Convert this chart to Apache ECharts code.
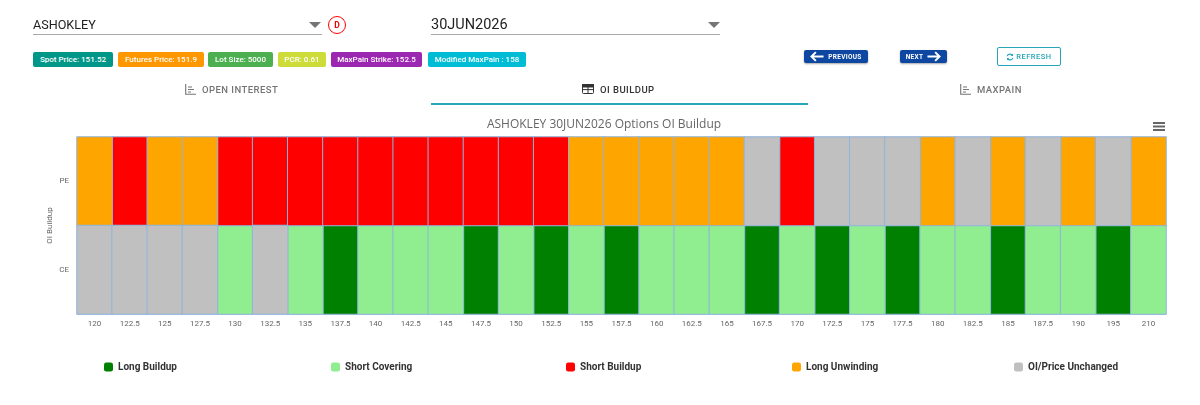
<!DOCTYPE html>
<html>
<head>
<meta charset="utf-8">
<title>ASHOKLEY Options OI Buildup</title>
<script src="https://cdn.jsdelivr.net/npm/echarts@6/dist/echarts.min.js"></script>
<style>
  html, body { margin: 0; padding: 0; background: #fff; width: 1200px; height: 405px; overflow: hidden; font-family: Roboto, sans-serif; }
  #chart { position: absolute; left: 0; top: 0; width: 1200px; height: 405px; }
  .abs { position: absolute; }
  .select { position: absolute; top: 14px; height: 21px; border-bottom: 1px solid #aaa; color: #222; line-height: 21px; box-sizing: border-box; }
  .caret { position: absolute; top: 22px; width: 0; height: 0; border-left: 6px solid transparent; border-right: 6px solid transparent; border-top: 6.5px solid #757575; }
  .badge { position: absolute; top: 52px; height: 15px; border-radius: 2px; color: #fff; font-size: 8px; font-weight: 500; line-height: 15px; text-align: center; white-space: nowrap; }
  .nav { position: absolute; background: #0d47a1; color: #fff; border-radius: 2px; font-size: 6.5px; font-weight: 700; letter-spacing: .3px; box-shadow: 0 1px 2px rgba(0,0,0,.35); display: flex; align-items: center; justify-content: center; gap: 3px; }
  .tab { position: absolute; top: 79px; height: 20px; font-size: 9.5px; font-weight: 500; letter-spacing: .45px; display: flex; align-items: center; gap: 6px; white-space: nowrap; }
</style>
</head>
<body>
<div id="chart"></div>

<div class="select" style="left:33px;width:289px;font-size:12.6px">ASHOKLEY</div>
<div class="caret" style="left:309px"></div>
<div class="abs" style="left:328px;top:16px;width:16px;height:16px;border:1.3px solid #f00;border-radius:50%;color:#e00;font-size:8.5px;font-weight:700;text-align:center;line-height:16px">D</div>
<div class="select" style="left:431px;width:289px;font-size:14.5px">30JUN2026</div>
<div class="caret" style="left:708px"></div>

<div class="badge" style="left:33px;width:80px;background:#009688">Spot Price: 151.52</div>
<div class="badge" style="left:118px;width:86px;background:#ff9800">Futures Price: 151.9</div>
<div class="badge" style="left:208px;width:65px;background:#4caf50">Lot Size: 5000</div>
<div class="badge" style="left:278px;width:48px;background:#cddc39">PCR: 0.61</div>
<div class="badge" style="left:331px;width:91px;background:#9c27b0">MaxPain Strike: 152.5</div>
<div class="badge" style="left:428px;width:98px;background:#00bcd4">Modified MaxPain : 158</div>

<div class="nav" style="left:804px;top:50px;width:64px;height:13px">
  <svg width="15" height="11" viewBox="0 0 13 10"><path d="M5 1 L1 5 L5 9 M1 5 H12" fill="none" stroke="#fff" stroke-width="1.8"/></svg><span>PREVIOUS</span>
</div>
<div class="nav" style="left:900px;top:50px;width:47px;height:13px">
  <span>NEXT</span><svg width="15" height="11" viewBox="0 0 13 10"><path d="M8 1 L12 5 L8 9 M1 5 H12" fill="none" stroke="#fff" stroke-width="1.8"/></svg>
</div>
<div class="abs" style="left:997px;top:47px;width:62px;height:17px;border:1px solid #26a6b8;border-radius:2px;color:#26a6b8;font-size:7.5px;font-weight:500;letter-spacing:.5px;display:flex;align-items:center;justify-content:center;gap:2px">
  <svg width="8" height="8" viewBox="0 0 10 10"><path d="M1.5 4 A3.6 3.6 0 0 1 8 3 M8.5 6 A3.6 3.6 0 0 1 2 7" fill="none" stroke="#26a6b8" stroke-width="1.4"/><path d="M8.8 .6 V3.6 H5.8 Z M1.2 9.4 V6.4 H4.2 Z" fill="#26a6b8"/></svg><span>REFRESH</span>
</div>

<div class="tab" style="left:185px;color:#757575">
  <svg width="11" height="11" viewBox="0 0 11 11"><path d="M.7 0 V10.3 H11 M3 3 H7 M3 5.5 H9 M3 8 H6" fill="none" stroke="#757575" stroke-width="1.1"/></svg><span>OPEN INTEREST</span>
</div>
<div class="tab" style="left:582px;color:#333">
  <svg width="12" height="10" viewBox="0 0 12 10"><rect x=".5" y=".5" width="11" height="9" rx="1" fill="#fff" stroke="#333"/><path d="M0 0 H12 V3 H0 Z M0 5.6 H12 M6 3 V10" fill="#333" stroke="#333" stroke-width="1"/></svg><span>OI BUILDUP</span>
</div>
<div class="tab" style="left:960px;color:#757575">
  <svg width="11" height="11" viewBox="0 0 11 11"><path d="M.7 0 V10.3 H11 M3 3 H7 M3 5.5 H9 M3 8 H6" fill="none" stroke="#757575" stroke-width="1.1"/></svg><span>MAXPAIN</span>
</div>
<div class="abs" style="left:431px;top:103px;width:377px;height:2px;background:#26a6b8"></div>

<div class="abs" style="left:1153px;top:122px;width:12px;height:2px;background:#666;box-shadow:0 3.5px 0 #666,0 7px 0 #666"></div>

<script>
// Strike prices along the horizontal axis
const strikes = ['120','122.5','125','127.5','130','132.5','135','137.5','140','142.5','145','147.5','150','152.5','155','157.5','160','162.5','165','167.5','170','172.5','175','177.5','180','182.5','185','187.5','190','195','210'];
const optionTypes = ['CE', 'PE'];

// Build-up state per strike: LB, SC, SB, LU or NC
const peStates = ['LU','SB','LU','LU','SB','SB','SB','SB','SB','SB','SB','SB','SB','SB','LU','LU','LU','LU','LU','NC','SB','NC','NC','NC','LU','NC','LU','NC','LU','NC','LU'];
const ceStates = ['NC','NC','NC','NC','SC','NC','SC','LB','SC','SC','SC','LB','SC','LB','SC','LB','SC','SC','SC','LB','SC','LB','SC','LB','SC','SC','LB','SC','SC','LB','SC'];

const stateCodes = ['LB', 'SC', 'SB', 'LU', 'NC'];
const stateNames = ['Long Buildup', 'Short Covering', 'Short Buildup', 'Long Unwinding', 'OI/Price Unchanged'];
const stateColors = ['#008000', '#90ee90', '#ff0000', '#ffa500', '#c0c0c0'];
const legendLefts = [104, 331, 566, 792, 1014];

const cellsFor = code => {
  const out = [];
  strikes.forEach((_, i) => {
    if (ceStates[i] === code) out.push([i, 0, 1]);
    if (peStates[i] === code) out.push([i, 1, 1]);
  });
  return out;
};

const chart = echarts.init(document.getElementById('chart'), null, { renderer: 'canvas' });
chart.setOption({
  animation: false,
  color: stateColors,
  title: {
    text: 'ASHOKLEY 30JUN2026 Options OI Buildup',
    left: 599, top: 114, textAlign: 'center',
    textStyle: { fontFamily: 'Open Sans', fontSize: 12, fontWeight: 400, color: '#666' }
  },
  grid: { left: 77, top: 137, width: 1089, height: 177, containLabel: false },
  xAxis: {
    type: 'category', data: strikes,
    axisLine: { show: true, lineStyle: { color: '#ccd6eb' } },
    axisTick: { show: false }, splitArea: { show: false },
    axisLabel: { interval: 0, fontFamily: 'Roboto', fontSize: 8, color: '#666', margin: 6 }
  },
  yAxis: {
    type: 'category', data: optionTypes,
    name: 'OI Buildup', nameLocation: 'middle', nameGap: 23, nameMoveOverlap: false,
    nameTextStyle: { fontFamily: 'Roboto', fontSize: 8, color: '#666' },
    axisLine: { show: false }, axisTick: { show: false },
    axisLabel: { fontFamily: 'Roboto', fontSize: 8, color: '#666', margin: 8 }
  },
  legend: stateNames.map((name, i) => ({
    data: [name], left: legendLefts[i], top: 362, padding: 0,
    icon: 'roundRect', itemWidth: 9, itemHeight: 9, itemGap: 0,
    itemStyle: { borderWidth: 0 },
    selectedMode: false,
    textStyle: { fontFamily: 'Roboto', fontSize: 10, fontWeight: 700, color: '#333' }
  })),
  series: stateCodes.map((code, i) => ({
    type: 'heatmap',
    name: stateNames[i],
    data: cellsFor(code),
    itemStyle: { color: stateColors[i], borderColor: '#8fb4dc', borderWidth: 1 },
    emphasis: { disabled: true }
  }))
});
</script>
</body>
</html>
